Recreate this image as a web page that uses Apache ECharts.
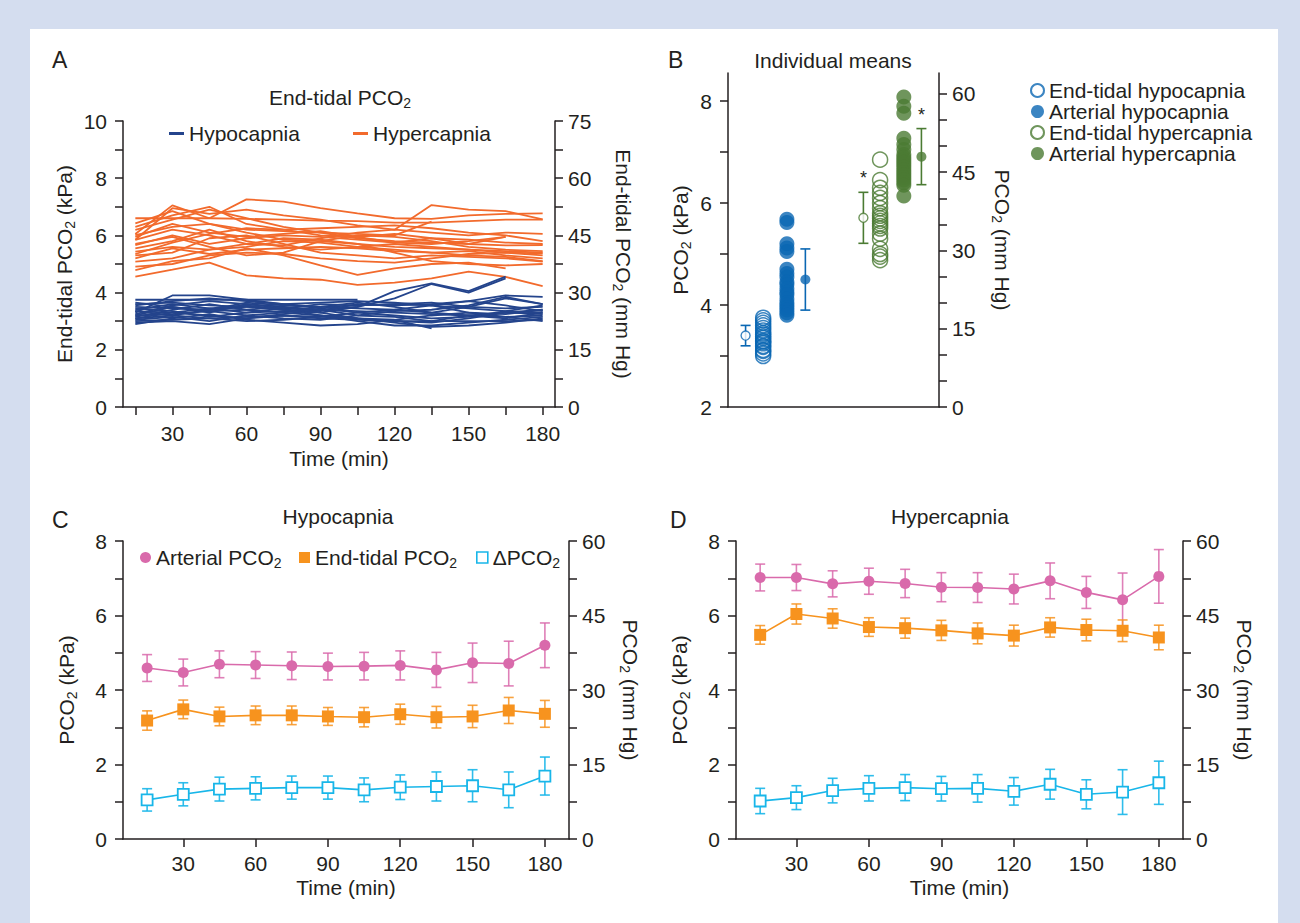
<!DOCTYPE html>
<html><head><meta charset="utf-8">
<script src="https://cdn.jsdelivr.net/npm/echarts@6/dist/echarts.min.js"></script>
<style>html,body{margin:0;padding:0;background:#fff}#c{width:1300px;height:923px}</style>
</head><body><div id="c"></div>
<script>
// ---------- DATA ----------
const times = [15,30,45,60,75,90,105,120,135,150,165,180];
// Panel A: individual end-tidal PCO2 traces (kPa)
const hyperLines = [
 [6.60,6.60,6.60,6.58,6.55,6.52,6.50,6.45,6.45,6.50,6.55,6.55],
 [6.05,7.05,6.60,7.26,7.18,6.95,6.77,6.60,6.58,6.70,6.75,6.77],
 [5.85,6.95,6.75,6.90,6.70,6.55,6.35,6.20,7.06,6.90,6.85,6.56],
 [6.42,6.85,6.40,6.20,6.15,6.10,6.05,6.00,6.48],
 [6.19,6.55,6.90,6.60,6.30,6.10,5.90,5.80,5.75,5.70,5.65,5.66],
 [6.01,6.30,6.40,6.10,5.85,5.80,5.70,5.60,5.55,5.50,5.45,5.40],
 [5.84,6.20,6.00,5.70,5.65,5.90,6.10,6.20,6.10,6.00,6.10,6.05],
 [5.66,6.00,5.70,5.90,6.00,5.95,5.85,5.75,5.90,5.70,5.95],
 [5.55,5.80,6.20,5.80,5.60,5.50,5.60,5.70,5.60,5.50,5.40,5.37],
 [5.43,5.60,5.50,5.60,5.80,5.75,5.60,5.50,5.40,5.45,5.30,5.20],
 [5.30,5.40,5.90,6.00,5.70,5.40,5.30,5.20,5.30,5.25,5.20,5.08],
 [5.20,5.55,5.35,5.50,5.55,5.60,5.55,5.45,5.40,5.30,5.25,5.10],
 [5.08,5.20,5.50,5.70,5.90,5.85,5.70,5.40,5.10,5.00,4.95,5.00],
 [4.91,5.00,5.30,5.40,5.35,5.20,5.10,5.05,5.20,5.35,5.40,5.30],
 [4.79,5.10,5.20,5.55,5.30,4.95,4.62,4.85,5.00,5.05,4.85],
 [4.56,4.80,5.05,4.60,4.50,4.45,4.27,4.35,4.50,4.73,4.55,4.23],
 [5.95,6.40,6.10,5.95,6.05,6.15,5.95,5.75,5.70,5.80,5.95],
 [6.30,6.70,7.00,6.40,6.20,6.25,6.30,6.35,6.25,6.10,6.00,5.80],
 [5.70,5.95,5.60,5.30,5.40,5.80,6.00,5.95,5.80,5.60,5.50,5.45],
 [5.35,5.75,6.05,6.25,6.20,6.00,5.95,6.05,5.90,5.85,5.75,5.70]
];
const hypoLines = [
 [3.75,3.75,3.75,3.75,3.75,3.75,3.75],
 [3.30,3.90,3.90,3.75,3.60,3.50,3.55,3.60,3.55,3.70,3.90,3.85],
 [3.20,3.50,3.30,3.60,3.50,3.40,3.50,3.80,4.30,4.00,4.50],
 [3.40,3.60,3.45,3.30,3.35,3.30,3.50,4.05,4.32,4.05,4.56],
 [3.10,3.20,3.40,3.50,3.60,3.45,3.30,3.20,3.10,3.15,3.35,3.55],
 [2.95,3.00,2.90,3.10,3.20,3.10,3.05,3.00,3.00,3.00,3.00,3.05],
 [3.00,3.05,3.10,3.15,3.20,3.15,3.10,2.95,2.80,2.85,2.95,3.10],
 [3.50,3.45,3.40,3.65,3.55,3.50,3.45,3.40,3.30,3.50,3.80,3.60],
 [3.60,3.65,3.55,3.50,3.40,3.35,3.60,3.55,3.60,3.70,3.55,3.35],
 [3.35,3.30,3.20,3.10,3.25,3.40,3.20,3.15,3.00,3.20,3.10,3.30],
 [3.15,3.40,3.60,3.40,3.30,3.20,3.10,3.05,2.75],
 [3.25,3.55,3.70,3.60,3.45,3.40,3.35,3.30,3.25,3.20,3.15,3.20],
 [3.05,3.15,3.00,3.20,3.30,3.50,3.65,3.50,3.30,3.20,3.30,3.40],
 [3.45,3.35,3.15,3.30,3.45,3.60,3.55,3.60,3.65,3.50,3.45,3.50],
 [2.90,3.10,3.25,3.05,2.95,2.85,2.90,3.05,3.20,3.30,3.25,3.40],
 [3.20,3.25,3.35,3.40,3.50,3.30,3.10,3.00,2.95,3.10,3.30,3.25],
 [3.55,3.70,3.80,3.70,3.60,3.65,3.70,3.65,3.55,3.45,3.35,3.30],
 [3.35,3.20,3.10,3.00,3.05,3.15,3.30,3.40,3.55,3.30,3.15,3.00],
 [3.10,3.30,3.45,3.55,3.40,3.20,3.00,2.85,2.85,2.95,3.05,3.15],
 [3.65,3.50,3.35,3.20,3.10,3.05,3.20,3.35,3.40,3.55,3.85,3.60]
];
// Panel B: individual means (kPa)
const etHypo  = [3.00,3.05,3.10,3.12,3.18,3.20,3.25,3.28,3.30,3.35,3.38,3.42,3.45,3.50,3.55,3.60,3.65,3.70,3.75];
const artHypo = [5.68,5.62,5.20,5.12,5.05,4.70,4.62,4.55,4.45,4.40,4.32,4.25,4.20,4.12,4.05,4.00,3.95,3.90,3.85,3.80];
const etHyper = [6.85,6.45,6.30,6.20,6.10,6.00,5.90,5.80,5.75,5.70,5.65,5.60,5.55,5.50,5.40,5.30,5.10,5.00,4.95,4.88];
const artHyper= [8.08,7.90,7.76,7.27,7.15,7.05,6.95,6.90,6.85,6.80,6.75,6.70,6.65,6.60,6.55,6.50,6.45,6.40,6.35,6.14];
const groupMean = [3.40,4.50,5.71,6.91];
const groupSD   = [0.20,0.60,0.50,0.55];
const groupStar = [false,false,true,true];
// Panel C: hypocapnia (kPa)
const C_art = [4.59,4.47,4.69,4.67,4.65,4.63,4.64,4.66,4.54,4.73,4.71,5.20];
const C_artSD = [0.36,0.36,0.36,0.36,0.37,0.36,0.37,0.39,0.47,0.53,0.60,0.60];
const C_et = [3.18,3.48,3.29,3.32,3.32,3.29,3.27,3.35,3.27,3.29,3.45,3.36];
const C_etSD = [0.26,0.25,0.25,0.25,0.25,0.24,0.26,0.27,0.29,0.30,0.35,0.36];
const C_d = [1.05,1.20,1.34,1.36,1.38,1.38,1.32,1.39,1.41,1.43,1.32,1.69];
const C_dSD = [0.30,0.31,0.32,0.31,0.31,0.31,0.32,0.33,0.39,0.43,0.48,0.51];
// Panel D: hypercapnia (kPa)
const D_art = [7.02,7.02,6.85,6.92,6.86,6.76,6.75,6.71,6.93,6.62,6.42,7.05];
const D_artSD = [0.36,0.35,0.35,0.35,0.38,0.39,0.40,0.40,0.48,0.43,0.72,0.72];
const D_et = [5.48,6.04,5.92,5.69,5.66,5.60,5.52,5.46,5.68,5.61,5.59,5.41];
const D_etSD = [0.25,0.27,0.26,0.25,0.27,0.27,0.28,0.28,0.26,0.29,0.29,0.33];
const D_d = [1.02,1.11,1.30,1.36,1.38,1.35,1.36,1.28,1.47,1.20,1.26,1.51];
const D_dSD = [0.34,0.32,0.33,0.34,0.35,0.33,0.37,0.37,0.40,0.39,0.60,0.58];
// Tick labels
const timeTicksA = [15,30,45,60,75,90,105,120,135,150,165,180];
const timeLabels = [30,60,90,120,150,180];
const kpaTicks10 = [0,1,2,3,4,5,6,7,8,9,10];
const kpaLabels10 = [0,2,4,6,8,10];
const mmTicks75 = [0,7.5,15,22.5,30,37.5,45,52.5,60,67.5,75];
const mmLabels75 = [0,15,30,45,60,75];
const kpaTicks8 = [0,1,2,3,4,5,6,7,8];
const kpaLabels8 = [0,2,4,6,8];
const mmTicks60 = [0,7.5,15,22.5,30,37.5,45,52.5,60];
const mmLabels60 = [0,15,30,45,60];
const bKpaTicks = [2,3,4,5,6,7,8];
const bKpaLabels = [2,4,6,8];
const bMmTicks = [0,5,10,15,20,25,30,35,40,45,50,55,60];
const bMmLabels = [0,15,30,45,60];
// Column positions on B's hidden x scale
const bCols = {etHypoMean:1.0, etHypo:2.0, artHypo:3.35, artHypoMean:4.4, etHyperMean:7.7, etHyper:8.65, artHyper:10.0, artHyperMean:11.0};

// ---------- STYLE ----------
const FONT = "'Liberation Sans', Arial, Helvetica, sans-serif";
const TXT = '#231f20', AX = '#231f20';
const FS = 21;
const BLUE_A = '#24448c', ORANGE_A = '#f26a2c';
const BLUE_B = '#0a67b3', GREEN_B = '#4b7b33';
const PINK = '#d96aab', ORANGE = '#f7931e', CYAN = '#18b6e9';
const RICH = {sub:{fontSize:14, padding:[11,0,0,0], fontFamily:FONT, color:TXT}};
const sub = s => s.replace('PCO2','PCO{sub|2}');

function axis(kind, gi, pos, min, max, ticks, labels, name, gap, rot, margin){
  const a = {type:'value', gridIndex:gi, position:pos, min:min, max:max,
    name:name ? sub(name) : '', nameLocation:'middle', nameGap:gap,
    nameTextStyle:{fontSize:FS, color:TXT, fontFamily:FONT, rich:RICH},
    axisLine:{show:true, onZero:false, lineStyle:{color:AX, width:1.5}},
    axisTick:{show:!!ticks, inside:false, length:8, customValues:ticks||[], lineStyle:{color:AX, width:1.5}},
    axisLabel:{show:!!labels, customValues:labels||[], fontSize:FS, color:TXT, fontFamily:FONT, margin:margin},
    splitLine:{show:false}};
  if (rot !== undefined) a.nameRotate = rot;
  return a;
}

const grids = [
  {left:123, top:121, width:432, height:286},
  {left:728, top:73, width:211, height:334},
  {left:123, top:541, width:446, height:298},
  {left:736, top:541, width:447, height:298}
];

const xAxes = [
  axis('x',0,'bottom',10,185,timeTicksA,timeLabels,'Time (min)',41,undefined,16),
  {type:'value', gridIndex:1, min:0, max:12, axisLine:{show:true,onZero:false,lineStyle:{color:AX,width:1.5}}, axisTick:{show:false}, axisLabel:{show:false}, splitLine:{show:false}},
  axis('x',2,'bottom',5,190,timeLabels,timeLabels,'Time (min)',38,undefined,14),
  axis('x',3,'bottom',5,190,timeLabels,timeLabels,'Time (min)',38,undefined,14)
];
const yAxes = [
  axis('y',0,'left',0,10,kpaTicks10,kpaLabels10,'End-tidal PCO2 (kPa)',46,90,16),
  axis('y',0,'right',0,75,mmTicks75,mmLabels75,'End-tidal PCO2 (mm Hg)',56,-90,13),
  axis('y',1,'left',2,8.55,bKpaTicks,bKpaLabels,'PCO2 (kPa)',35,90,16),
  axis('y',1,'right',0,64,bMmTicks,bMmLabels,'PCO2 (mm Hg)',51,-90,13),
  axis('y',2,'left',0,8,kpaTicks8,kpaLabels8,'PCO2 (kPa)',44,90,16),
  axis('y',2,'right',0,60,mmTicks60,mmLabels60,'PCO2 (mm Hg)',49,-90,13),
  axis('y',3,'left',0,8,kpaTicks8,kpaLabels8,'PCO2 (kPa)',44,90,16),
  axis('y',3,'right',0,60,mmTicks60,mmLabels60,'PCO2 (mm Hg)',49,-90,13)
];

const series = [];
// Panel A
hyperLines.forEach(arr => series.push({type:'line', name:'Hypercapnia', xAxisIndex:0, yAxisIndex:0,
  data: arr.map((v,i)=>[times[i], v]), symbol:'none', showSymbol:false, silent:true,
  lineStyle:{color:ORANGE_A, width:1.8}, itemStyle:{color:ORANGE_A}}));
hypoLines.forEach(arr => series.push({type:'line', name:'Hypocapnia', xAxisIndex:0, yAxisIndex:0,
  data: arr.map((v,i)=>[times[i], v]), symbol:'none', showSymbol:false, silent:true,
  lineStyle:{color:BLUE_A, width:1.8}, itemStyle:{color:BLUE_A}}));

// error bar renderer
function errBar(cap){
  return function(params, api){
    const x = api.value(0), lo = api.value(1), hi = api.value(2);
    const p1 = api.coord([x, lo]), p2 = api.coord([x, hi]);
    const st = {stroke: api.visual('color'), lineWidth:1.6, fill:null};
    return {type:'group', children:[
      {type:'line', shape:{x1:p1[0], y1:p1[1], x2:p2[0], y2:p2[1]}, style:st},
      {type:'line', shape:{x1:p1[0]-cap, y1:p1[1], x2:p1[0]+cap, y2:p1[1]}, style:st},
      {type:'line', shape:{x1:p2[0]-cap, y1:p2[1], x2:p2[0]+cap, y2:p2[1]}, style:st}
    ]};
  };
}

// Panel B
function scat(name, xv, vals, color, filled, size){
  return {type:'scatter', name:name, xAxisIndex:1, yAxisIndex:2, symbol:'circle', symbolSize:size,
    data: vals.map(v=>[xv, v]), silent:true, z:3,
    itemStyle: filled ? {color:color} : {color:'rgba(255,255,255,0)', borderColor:color, borderWidth:1.5}};
}
series.push(scat('End-tidal hypocapnia', bCols.etHypo, etHypo, BLUE_B, false, 15));
series.push(scat('Arterial hypocapnia', bCols.artHypo, artHypo, BLUE_B, true, 15));
series.push(scat('End-tidal hypercapnia', bCols.etHyper, etHyper, GREEN_B, false, 15));
series.push(scat('Arterial hypercapnia', bCols.artHyper, artHyper, GREEN_B, true, 15));
const meanCols = [bCols.etHypoMean, bCols.artHypoMean, bCols.etHyperMean, bCols.artHyperMean];
const meanColors = [BLUE_B, BLUE_B, GREEN_B, GREEN_B];
const meanFilled = [false, true, false, true];
groupMean.forEach((m,i)=>{
  series.push({type:'custom', xAxisIndex:1, yAxisIndex:2, renderItem:errBar(5), silent:true, z:2,
    itemStyle:{color:meanColors[i]}, data:[[meanCols[i], m-groupSD[i], m+groupSD[i]]], encode:{x:0, y:[1,2]}});
  series.push({type:'scatter', xAxisIndex:1, yAxisIndex:2, symbol:'circle', symbolSize: meanFilled[i]?10:9, silent:true, z:4,
    data:[[meanCols[i], m]],
    itemStyle: meanFilled[i] ? {color:meanColors[i]} : {color:'#fff', borderColor:meanColors[i], borderWidth:1.4}});
});
series.push({type:'custom', xAxisIndex:1, yAxisIndex:2, silent:true, z:5,
  data: groupMean.map((m,i)=> groupStar[i] ? [meanCols[i], m+groupSD[i]] : null).filter(d=>d),
  encode:{x:0, y:1},
  renderItem:function(params, api){
    const p = api.coord([api.value(0), api.value(1)]);
    return {type:'text', x:p[0], y:p[1]-14, style:{text:'*', fontSize:18, fontFamily:FONT, fill:TXT, align:'center', verticalAlign:'middle'}};
  }});

// Panels C & D
function panel(xi, yi, art, artSD, et, etSD, d, dSD){
  const mk = (m, s) => m.map((v,i)=>[times[i], v-s[i], v+s[i]]);
  series.push({type:'custom', xAxisIndex:xi, yAxisIndex:yi, renderItem:errBar(5), silent:true, z:1, itemStyle:{color:'rgba(217,106,171,0.85)'}, data:mk(art,artSD), encode:{x:0,y:[1,2]}});
  series.push({type:'custom', xAxisIndex:xi, yAxisIndex:yi, renderItem:errBar(5), silent:true, z:1, itemStyle:{color:'rgba(247,147,30,0.85)'}, data:mk(et,etSD), encode:{x:0,y:[1,2]}});
  series.push({type:'custom', xAxisIndex:xi, yAxisIndex:yi, renderItem:errBar(5), silent:true, z:1, itemStyle:{color:'rgba(24,182,233,0.9)'}, data:mk(d,dSD), encode:{x:0,y:[1,2]}});
  series.push({type:'line', name:'Arterial PCO2', xAxisIndex:xi, yAxisIndex:yi, data:art.map((v,i)=>[times[i],v]),
    symbol:'circle', symbolSize:11, showSymbol:true, silent:true, z:3, lineStyle:{color:PINK, width:1.6}, itemStyle:{color:PINK}});
  series.push({type:'line', name:'End-tidal PCO2', xAxisIndex:xi, yAxisIndex:yi, data:et.map((v,i)=>[times[i],v]),
    symbol:'rect', symbolSize:12, showSymbol:true, silent:true, z:3, lineStyle:{color:ORANGE, width:1.6}, itemStyle:{color:ORANGE}});
  series.push({type:'line', name:'ΔPCO2', xAxisIndex:xi, yAxisIndex:yi, data:d.map((v,i)=>[times[i],v]),
    symbol:'rect', symbolSize:11, showSymbol:true, silent:true, z:3, lineStyle:{color:CYAN, width:1.6}, itemStyle:{color:'#fff', borderColor:CYAN, borderWidth:1.8}});
}
panel(2, 4, C_art, C_artSD, C_et, C_etSD, C_d, C_dSD);
panel(3, 6, D_art, D_artSD, D_et, D_etSD, D_d, D_dSD);

const legTxt = {fontSize:FS, color:TXT, fontFamily:FONT, rich:RICH};
const legends = [
  {data:['Hypocapnia'], left:164, top:118, icon:'rect', itemWidth:15, itemHeight:3, itemGap:8, textStyle:legTxt, selectedMode:false},
  {data:['Hypercapnia'], left:348, top:118, icon:'rect', itemWidth:15, itemHeight:3, textStyle:legTxt, selectedMode:false},
  {data:['End-tidal hypocapnia','Arterial hypocapnia','End-tidal hypercapnia','Arterial hypercapnia'], orient:'vertical',
    left:1025, top:75, icon:'circle', itemWidth:13, itemHeight:13, itemGap:0, textStyle:legTxt, selectedMode:false},
  {data:['Arterial PCO2'], left:135, top:542, icon:'circle', itemWidth:11, itemHeight:11, itemGap:6, textStyle:legTxt, formatter:sub, selectedMode:false},
  {data:['End-tidal PCO2'], left:294, top:542, icon:'rect', itemWidth:11, itemHeight:11, textStyle:legTxt, formatter:sub, selectedMode:false},
  {data:['ΔPCO2'], left:471, top:542, icon:'rect', itemWidth:11, itemHeight:11, textStyle:legTxt, formatter:sub, selectedMode:false,
    itemStyle:{color:'#fff', borderColor:CYAN, borderWidth:1.6}}
];

const txt = (x, y, text, size, align) => ({type:'text', x:x, y:y, silent:true,
  style:{text:text, fontSize:size, fontFamily:FONT, fill:TXT, align:align||'left', verticalAlign:'middle', rich:RICH}});
const BORDER = '#d4ddef';
const graphics = [
  {type:'rect', shape:{x:0, y:0, width:1300, height:29}, style:{fill:BORDER}, silent:true},
  {type:'rect', shape:{x:0, y:0, width:30, height:923}, style:{fill:BORDER}, silent:true},
  {type:'rect', shape:{x:1278, y:0, width:22, height:923}, style:{fill:BORDER}, silent:true},
  txt(52, 60, 'A', 23), txt(668, 60, 'B', 23), txt(52, 520, 'C', 23), txt(670, 520, 'D', 23),
  txt(340, 97, 'End-tidal PCO{sub|2}', FS, 'center'),
  txt(833, 60, 'Individual means', FS, 'center'),
  txt(338, 516, 'Hypocapnia', FS, 'center'),
  txt(950, 516, 'Hypercapnia', FS, 'center')
];

const chart = echarts.init(document.getElementById('c'), null, {renderer:'svg'});
chart.setOption({
  animation:false, backgroundColor:'#fff',
  textStyle:{fontFamily:FONT},
  grid:grids, xAxis:xAxes, yAxis:yAxes, series:series, legend:legends, graphic:graphics
});
</script>
</body></html>
